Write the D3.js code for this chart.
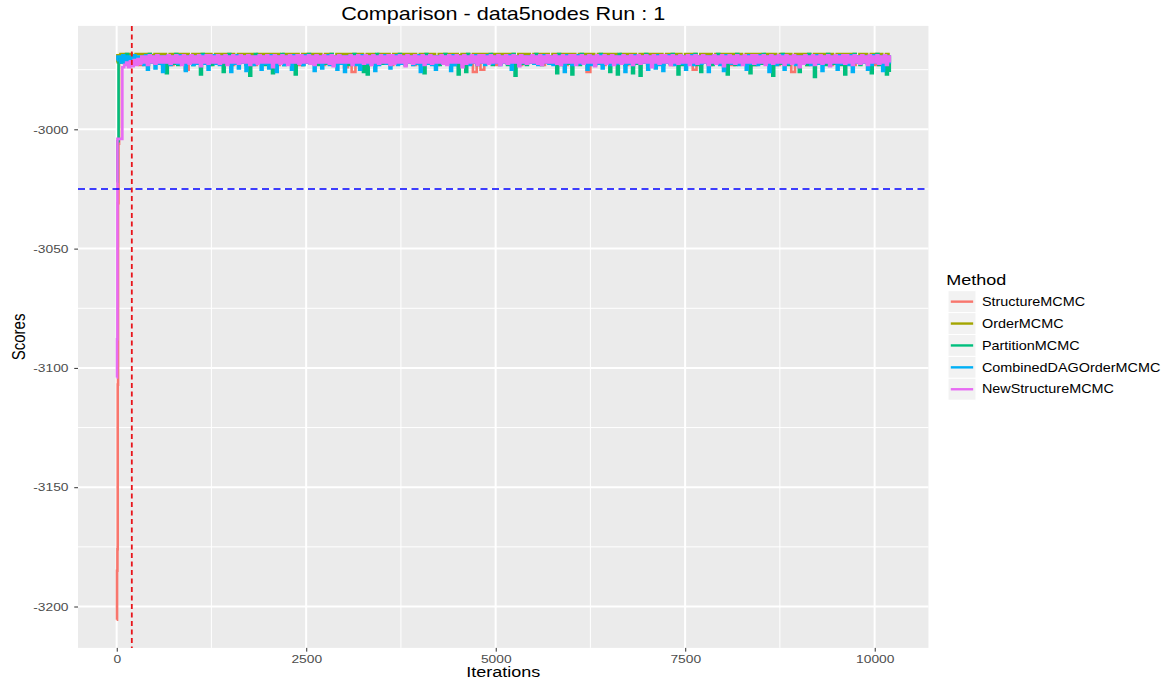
<!DOCTYPE html>
<html>
<head>
<meta charset="utf-8">
<script src="https://cdn.jsdelivr.net/npm/d3@7"></script>
<style>
  body { margin: 0; background: #fff; }
  text { font-family: "Liberation Sans", Arial, sans-serif; }
  .nss { vector-effect: non-scaling-stroke; }
</style>
</head>
<body>
<div id="chart"></div>
<script>
const methods = ["StructureMCMC", "OrderMCMC", "PartitionMCMC", "CombinedDAGOrderMCMC", "NewStructureMCMC"]
const methodColors = ["#F8766D", "#A3A500", "#00BF7D", "#00B0F6", "#E76BF3"]
const xTicks = [0, 2500, 5000, 7500, 10000]
const yTicks = [-3200, -3150, -3100, -3050, -3000]
const burnIn = 200
const refScore = -3025

// first iterations, [iteration, score]
const structureStart = [[0, -3205.5], [5, -3185], [10, -3176], [14, -3107], [18, -3031], [24, -3006], [32, -2971]]
const orderStart = [[0, -2972], [10, -2969]]
const partitionStart = [[0, -3022], [9, -3005]]
const combinedStart = [[0, -2971], [10, -2969.5]]
const newStructureStart = [[0, -3104], [5, -3088], [10, -3004], [20, -3004]]

// sampled scores after that, one every `step` iterations up to 10200
const structureStep = 50
const structureTrace = [
  -2970,-2972,-2969.5,-2972,-2970,-2973,-2969.5,-2972,-2970,-2972,
  -2969.5,-2972,-2970,-2973,-2969.5,-2972,-2970,-2975,-2969.5,-2972,
  -2970,-2972,-2969.5,-2973,-2970,-2972,-2969.5,-2972,-2970,-2973,
  -2969.5,-2972,-2970,-2972,-2969.5,-2973,-2970,-2972,-2969.5,-2972,
  -2970,-2973,-2969.5,-2972,-2970,-2972,-2969.5,-2973,-2970,-2972,
  -2969.5,-2972,-2970,-2973,-2969.5,-2972,-2970,-2972,-2969.5,-2974,
  -2970,-2976,-2969.5,-2972,-2970,-2973,-2969.5,-2972,-2970,-2972,
  -2969.5,-2973,-2970,-2972,-2969.5,-2972,-2970,-2973,-2969.5,-2972,
  -2970,-2972,-2969.5,-2973,-2970,-2972,-2969.5,-2972,-2970,-2973,
  -2969.5,-2972,-2970,-2976,-2969.5,-2975,-2970,-2972,-2969.5,-2973,
  -2970,-2972,-2969.5,-2972,-2970,-2973,-2969.5,-2972,-2970,-2972,
  -2969.5,-2973,-2970,-2972,-2969.5,-2972,-2970,-2973,-2969.5,-2972,
  -2970,-2972,-2969.5,-2976,-2970,-2972,-2969.5,-2973,-2970,-2972,
  -2969.5,-2972,-2970,-2973,-2969.5,-2972,-2970,-2972,-2969.5,-2973,
  -2970,-2972,-2969.5,-2972,-2970,-2973,-2969.5,-2972,-2970,-2972,
  -2969.5,-2975,-2970,-2972,-2969.5,-2973,-2970,-2972,-2969.5,-2972,
  -2970,-2973,-2969.5,-2972,-2970,-2972,-2969.5,-2973,-2970,-2972,
  -2969.5,-2972,-2970,-2973,-2969.5,-2972,-2970,-2976,-2969.5,-2972,
  -2970,-2973,-2969.5,-2972,-2970,-2972,-2969.5,-2973,-2970,-2972,
  -2969.5,-2972,-2970,-2973,-2969.5,-2972,-2970,-2972,-2969.5,-2973,
  -2970,-2972,-2969.5,-2972
]
const orderStep = 50
const orderTrace = [
  -2968.5,-2968.5,-2968.5,-2969.5,-2968.5,-2968.5,-2968.5,-2968.5,-2969,-2968.5,
  -2968.5,-2968.5,-2969.5,-2968.5,-2968.5,-2968.5,-2968.5,-2968.5,-2969,-2968.5,
  -2968.5,-2968.5,-2968.5,-2968.5,-2969.5,-2968.5,-2968.5,-2968.5,-2968.5,-2968.5,
  -2969,-2968.5,-2968.5,-2968.5,-2968.5,-2969.5,-2968.5,-2968.5,-2968.5,-2968.5,
  -2968.5,-2968.5,-2969,-2968.5,-2968.5,-2968.5,-2968.5,-2969.5,-2968.5,-2968.5,
  -2968.5,-2968.5,-2968.5,-2969,-2968.5,-2968.5,-2969.5,-2968.5,-2968.5,-2968.5,
  -2968.5,-2968.5,-2968.5,-2968.5,-2969.5,-2968.5,-2968.5,-2969,-2968.5,-2968.5,
  -2968.5,-2969.5,-2968.5,-2968.5,-2968.5,-2968.5,-2968.5,-2968.5,-2969,-2968.5,
  -2968.5,-2968.5,-2968.5,-2969.5,-2968.5,-2968.5,-2968.5,-2968.5,-2968.5,-2969,
  -2968.5,-2968.5,-2969.5,-2968.5,-2968.5,-2968.5,-2968.5,-2969,-2968.5,-2968.5,
  -2968.5,-2968.5,-2968.5,-2968.5,-2969.5,-2968.5,-2968.5,-2968.5,-2969,-2968.5,
  -2968.5,-2968.5,-2968.5,-2969.5,-2968.5,-2968.5,-2968.5,-2968.5,-2968.5,-2968.5,
  -2969,-2968.5,-2968.5,-2968.5,-2968.5,-2969.5,-2968.5,-2968.5,-2968.5,-2968.5,
  -2968.5,-2969,-2968.5,-2968.5,-2968.5,-2968.5,-2969.5,-2968.5,-2968.5,-2968.5,
  -2968.5,-2968.5,-2968.5,-2969,-2968.5,-2968.5,-2968.5,-2968.5,-2969.5,-2968.5,
  -2968.5,-2968.5,-2969.5,-2968.5,-2968.5,-2968.5,-2969,-2968.5,-2968.5,-2968.5,
  -2968.5,-2968.5,-2968.5,-2968.5,-2969.5,-2968.5,-2968.5,-2968.5,-2968.5,-2969,
  -2968.5,-2968.5,-2968.5,-2969.5,-2968.5,-2968.5,-2968.5,-2969,-2968.5,-2968.5,
  -2968.5,-2968.5,-2969.5,-2968.5,-2968.5,-2968.5,-2968.5,-2968.5,-2969,-2968.5,
  -2968.5,-2968.5,-2968.5,-2968.5,-2969.5,-2968.5,-2968.5,-2969,-2968.5,-2968.5,
  -2968.5,-2969.5,-2968.5,-2968.5
]
const partitionStep = 25
const partitionTrace = [
  -2970,-2972,-2969.5,-2972.5,-2968.5,-2972,-2970,-2973,-2969.5,-2972,-2970,-2972.5,-2969.5,-2972,-2970,-2973,-2968.5,-2972,-2969.5,-2972.5,-2970,-2972,-2969.5,-2973,
  -2970,-2976.5,-2969.5,-2972,-2970,-2972.5,-2968.5,-2973,-2969.5,-2972,-2970,-2972.5,-2969.5,-2972,-2970,-2973,-2969.5,-2972,-2970,-2977,-2968.5,-2972.5,-2969.5,-2972,
  -2970,-2973,-2969.5,-2972,-2970,-2972.5,-2969.5,-2976,-2970,-2972,-2968.5,-2973,-2969.5,-2972,-2970,-2972.5,-2969.5,-2972,-2970,-2973,-2969.5,-2977.5,-2970,-2972,
  -2968.5,-2972.5,-2969.5,-2972,-2970,-2973,-2969.5,-2972,-2970,-2976.5,-2969.5,-2972.5,-2970,-2972,-2968.5,-2973,-2969.5,-2972,-2970,-2972.5,-2969.5,-2977,-2970,-2972,
  -2969.5,-2973,-2970,-2972,-2968.5,-2972.5,-2969.5,-2972,-2970,-2973,-2969.5,-2972,-2970,-2972.5,-2969.5,-2972,-2968.5,-2973,-2970,-2972,-2969.5,-2972.5,-2970,-2972,
  -2969.5,-2973,-2970,-2972,-2968.5,-2972.5,-2969.5,-2972,-2970,-2976,-2969.5,-2977,-2970,-2972,-2969.5,-2973,-2968.5,-2972,-2970,-2972.5,-2969.5,-2972,-2970,-2973,
  -2969.5,-2972,-2970,-2972.5,-2968.5,-2972,-2969.5,-2973,-2970,-2972,-2969.5,-2972.5,-2970,-2972,-2969.5,-2973,-2970,-2976.5,-2968.5,-2972,-2969.5,-2972.5,-2970,-2972,
  -2969.5,-2973,-2970,-2972,-2968.5,-2972.5,-2969.5,-2972,-2970,-2973,-2969.5,-2977,-2970,-2972,-2969.5,-2976,-2968.5,-2972.5,-2970,-2972,-2969.5,-2973,-2970,-2972,
  -2969.5,-2972.5,-2970,-2972,-2968.5,-2973,-2969.5,-2972,-2970,-2972.5,-2969.5,-2972,-2970,-2973,-2969.5,-2972,-2968.5,-2977.5,-2970,-2972,-2969.5,-2972.5,-2970,-2973,
  -2969.5,-2972,-2970,-2972.5,-2968.5,-2972,-2969.5,-2973,-2970,-2972,-2969.5,-2972.5,-2970,-2972,-2969.5,-2976.5,-2968.5,-2973,-2970,-2972,-2969.5,-2972.5,-2970,-2977,
  -2969.5,-2972,-2970,-2973,-2968.5,-2972,-2969.5,-2972.5,-2970,-2972,-2969.5,-2973,-2970,-2972,-2968.5,-2972.5,-2969.5,-2972,-2970,-2976,-2969.5,-2972.5,-2970,-2977,
  -2968.5,-2972,-2969.5,-2973,-2970,-2972,-2969.5,-2976.5,-2970,-2972.5,-2969.5,-2977.5,-2970,-2972,-2968.5,-2973,-2969.5,-2972,-2970,-2972.5,-2969.5,-2972,-2970,-2973,
  -2969.5,-2972,-2970,-2972.5,-2968.5,-2972,-2969.5,-2977,-2970,-2973,-2969.5,-2972,-2970,-2972.5,-2969.5,-2972,-2968.5,-2973,-2970,-2976,-2969.5,-2972,-2970,-2972.5,
  -2969.5,-2973,-2970,-2972,-2968.5,-2972.5,-2969.5,-2972,-2970,-2977,-2969.5,-2972,-2970,-2973,-2968.5,-2972,-2969.5,-2972.5,-2970,-2972,-2969.5,-2976.5,-2970,-2973,
  -2969.5,-2972,-2970,-2972.5,-2968.5,-2972,-2969.5,-2973,-2970,-2977.5,-2969.5,-2972,-2970,-2972.5,-2968.5,-2972,-2969.5,-2973,-2970,-2972,-2969.5,-2972.5,-2970,-2976,
  -2969.5,-2972,-2970,-2973,-2968.5,-2972,-2969.5,-2978,-2970,-2972.5,-2969.5,-2972,-2970,-2973,-2968.5,-2972,-2969.5,-2972.5,-2970,-2972,-2969.5,-2973,-2970,-2977,
  -2969.5,-2972,-2970,-2972.5,-2968.5,-2972,-2969.5,-2973,-2970,-2972,-2969.5,-2972.5,-2970,-2976.5,-2969.5,-2972,-2968.5,-2973,-2970,-2972,-2969.5,-2977,-2970,-2976
]
const combinedStep = 25
const combinedTrace = [
  -2969.5,-2972,-2969,-2972.5,-2969.5,-2973,-2969.5,-2972,-2969,-2972.5,-2969.5,-2972,-2969.5,-2973,-2969,-2975,-2969.5,-2972,-2969.5,-2974.5,-2969,-2972.5,-2969.5,-2976,
  -2969.5,-2972,-2969,-2973,-2969.5,-2972,-2969.5,-2972.5,-2969,-2972,-2969.5,-2975.5,-2969.5,-2972,-2969,-2973,-2969.5,-2972.5,-2969.5,-2972,-2969,-2972.5,-2969.5,-2975,
  -2969.5,-2972,-2969,-2972.5,-2969.5,-2973,-2969.5,-2972,-2969,-2972,-2969.5,-2976,-2969.5,-2972.5,-2969,-2974.5,-2969.5,-2972,-2969.5,-2975.5,-2969,-2972,-2969.5,-2973,
  -2969.5,-2972,-2969,-2975,-2969.5,-2972.5,-2969.5,-2974.5,-2969,-2972,-2969.5,-2976,-2969.5,-2972,-2969,-2973,-2969.5,-2972.5,-2969.5,-2975,-2969,-2972,-2969.5,-2972.5,
  -2969.5,-2973,-2969,-2972,-2969.5,-2972.5,-2969.5,-2975.5,-2969,-2972,-2969.5,-2974.5,-2969.5,-2972,-2969,-2973,-2969.5,-2972,-2969.5,-2975,-2969,-2972.5,-2969.5,-2976,
  -2969.5,-2972,-2969,-2972.5,-2969.5,-2973,-2969.5,-2975,-2969,-2972,-2969.5,-2972.5,-2969.5,-2972,-2969,-2975.5,-2969.5,-2973,-2969.5,-2972,-2969,-2972.5,-2969.5,-2974.5,
  -2969.5,-2972,-2969,-2973,-2969.5,-2972.5,-2969.5,-2972,-2969,-2972,-2969.5,-2973,-2969.5,-2972.5,-2969,-2976,-2969.5,-2972,-2969.5,-2972.5,-2969,-2973,-2969.5,-2975,
  -2969.5,-2972,-2969,-2972.5,-2969.5,-2972,-2969.5,-2975.5,-2969,-2973,-2969.5,-2972,-2969.5,-2972.5,-2969,-2972,-2969.5,-2973,-2969.5,-2972,-2969,-2972.5,-2969.5,-2972,
  -2969.5,-2973,-2969,-2972,-2969.5,-2972.5,-2969.5,-2972,-2969,-2973,-2969.5,-2972,-2969.5,-2972.5,-2969,-2975,-2969.5,-2972,-2969.5,-2973,-2969,-2972,-2969.5,-2972.5,
  -2969.5,-2972,-2969,-2972.5,-2969.5,-2973,-2969.5,-2972,-2969,-2972,-2969.5,-2972.5,-2969.5,-2973,-2969,-2972,-2969.5,-2972.5,-2969.5,-2976,-2969,-2972,-2969.5,-2973,
  -2969.5,-2972,-2969,-2972.5,-2969.5,-2972,-2969.5,-2975,-2969,-2973,-2969.5,-2972,-2969.5,-2972.5,-2969,-2974.5,-2969.5,-2972,-2969.5,-2973,-2969,-2972,-2969.5,-2972.5,
  -2969.5,-2972,-2969,-2976,-2969.5,-2972.5,-2969.5,-2973,-2969,-2972,-2969.5,-2972.5,-2969.5,-2972,-2969,-2975,-2969.5,-2972,-2969.5,-2974.5,-2969,-2973,-2969.5,-2975.5,
  -2969.5,-2972,-2969,-2972.5,-2969.5,-2973,-2969.5,-2972,-2969,-2972.5,-2969.5,-2975,-2969.5,-2972,-2969,-2973,-2969.5,-2972,-2969.5,-2972.5,-2969,-2972,-2969.5,-2976,
  -2969.5,-2972,-2969,-2972.5,-2969.5,-2973,-2969.5,-2975.5,-2969,-2972,-2969.5,-2972.5,-2969.5,-2972,-2969,-2973,-2969.5,-2972,-2969.5,-2975,-2969,-2972.5,-2969.5,-2972,
  -2969.5,-2973,-2969,-2972,-2969.5,-2972.5,-2969.5,-2976,-2969,-2972,-2969.5,-2973,-2969.5,-2972,-2969,-2975,-2969.5,-2972.5,-2969.5,-2972,-2969,-2973,-2969.5,-2972,
  -2969.5,-2972.5,-2969,-2972,-2969.5,-2973,-2969.5,-2972,-2969,-2972.5,-2969.5,-2975.5,-2969.5,-2972,-2969,-2973,-2969.5,-2972,-2969.5,-2975,-2969,-2972.5,-2969.5,-2972,
  -2969.5,-2973,-2969,-2976,-2969.5,-2972,-2969.5,-2972.5,-2969,-2972,-2969.5,-2975,-2969.5,-2973,-2969,-2972,-2969.5,-2972.5,-2969.5,-2975.5,-2969,-2972,-2969.5,-2972.5
]
const newStructureStep = 25
const newStructureTrace = [
  -3004,-3004,-2974,-2973,-2972,-2974,-2971.5,-2973.5,-2971,-2973,-2970.5,-2972.5,-2969.5,-2972,-2969.5,-2973,-2969,-2972,-2969.5,-2972.5,-2969,-2972,-2969.5,-2972,
  -2969.5,-2972,-2969,-2972.5,-2969.5,-2972,-2969,-2972,-2969.5,-2973,-2969,-2972,-2969.5,-2972.5,-2969,-2972,-2969.5,-2972,-2969,-2973.5,-2969.5,-2972,-2969,-2972.5,
  -2969,-2972,-2969.5,-2972,-2969,-2972.5,-2969.5,-2972,-2969,-2973,-2969.5,-2972,-2969,-2972,-2969.5,-2972.5,-2969,-2972,-2969.5,-2972,-2969,-2973,-2969.5,-2972,
  -2969.5,-2972.5,-2969,-2972,-2969.5,-2972,-2969,-2972,-2969.5,-2974,-2969,-2972,-2969.5,-2972.5,-2969,-2972,-2969.5,-2973,-2969,-2972,-2969.5,-2972,-2969,-2972.5,
  -2969,-2972,-2969.5,-2972,-2969,-2972.5,-2969.5,-2973,-2969,-2972,-2969.5,-2972,-2969,-2972,-2969.5,-2972.5,-2969,-2973.5,-2969.5,-2972,-2969,-2972,-2969.5,-2972,
  -2969.5,-2972,-2969,-2973,-2969.5,-2972,-2969,-2972,-2969.5,-2972.5,-2969,-2972,-2969.5,-2973,-2969,-2972,-2969.5,-2972.5,-2969,-2972,-2969.5,-2972,-2969,-2973,
  -2969,-2972.5,-2969.5,-2972,-2969,-2972,-2969.5,-2973.5,-2969,-2972,-2969.5,-2972.5,-2969,-2972,-2969.5,-2972,-2969,-2973,-2969.5,-2972,-2969,-2972.5,-2969.5,-2972,
  -2969.5,-2972,-2969,-2972.5,-2969.5,-2973,-2969,-2972,-2969.5,-2972,-2969,-2972,-2969.5,-2974,-2969,-2972.5,-2969.5,-2972,-2969,-2972,-2969.5,-2973,-2969,-2972,
  -2969,-2972,-2969.5,-2972.5,-2969,-2972,-2969.5,-2972,-2969,-2973,-2969.5,-2972,-2969,-2972.5,-2969.5,-2972,-2969,-2972,-2969.5,-2973.5,-2969,-2972,-2969.5,-2972.5,
  -2969.5,-2972,-2969,-2972,-2969.5,-2972.5,-2969,-2973,-2969.5,-2972,-2969,-2972,-2969.5,-2972,-2969,-2972.5,-2969.5,-2973,-2969,-2972,-2969.5,-2972,-2969,-2972,
  -2969,-2973,-2969.5,-2972,-2969,-2972.5,-2969.5,-2972,-2969,-2972,-2969.5,-2973.5,-2969,-2972,-2969.5,-2972,-2969,-2972.5,-2969.5,-2972,-2969,-2973,-2969.5,-2972,
  -2969.5,-2972.5,-2969,-2972,-2969.5,-2972,-2969,-2973,-2969.5,-2972,-2969,-2972.5,-2969.5,-2972,-2969,-2972,-2969.5,-2974,-2969,-2972,-2969.5,-2972.5,-2969,-2972,
  -2969,-2972,-2969.5,-2973,-2969,-2972,-2969.5,-2972.5,-2969,-2972,-2969.5,-2972,-2969,-2973,-2969.5,-2972,-2969,-2972.5,-2969.5,-2972,-2969,-2972,-2969.5,-2973,
  -2969.5,-2972,-2969,-2972.5,-2969.5,-2972,-2969,-2973.5,-2969.5,-2972,-2969,-2972,-2969.5,-2972.5,-2969,-2972,-2969.5,-2973,-2969,-2972,-2969.5,-2972,-2969,-2972.5,
  -2969,-2972,-2969.5,-2972,-2969,-2973,-2969.5,-2972,-2969,-2972.5,-2969.5,-2972,-2969,-2972,-2969.5,-2973,-2969,-2972,-2969.5,-2972.5,-2969,-2972,-2969.5,-2974,
  -2969.5,-2972.5,-2969,-2972,-2969.5,-2972,-2969,-2973,-2969.5,-2972,-2969,-2972.5,-2969.5,-2972,-2969,-2973.5,-2969.5,-2972,-2969,-2972,-2969.5,-2972,-2969,-2972.5,
  -2969,-2972,-2969.5,-2973,-2969,-2972,-2969.5,-2972.5,-2969,-2972,-2969.5,-2973,-2969,-2972,-2969.5,-2972,-2969,-2972.5,-2969.5,-2972,-2969,-2973,-2969.5,-2972
]

const seriesStarts = [structureStart, orderStart, partitionStart, combinedStart, newStructureStart]
const seriesSteps = [structureStep, orderStep, partitionStep, combinedStep, newStructureStep]
const seriesTraces = [structureTrace, orderTrace, partitionTrace, combinedTrace, newStructureTrace]

// the reference picture is stretched horizontally, so draw in a narrower box and stretch it
const W = 1171, H = 680, sx = 1.2
const iw = W / sx
const panel = { left: 65, right: 773.7, top: 25.9, bottom: 647.9 }

const series = methods.map((m, i) => ({
  method: m,
  color: methodColors[i],
  values: seriesStarts[i].map(d => ({ it: d[0], score: d[1] }))
    .concat(seriesTraces[i].map((s, k) => ({ it: seriesSteps[i] * (k + 1), score: s })))
}))

const allVals = series.flatMap(s => s.values)
const xExt = d3.extent(allVals, d => d.it)
const yExt = d3.extent(allVals, d => d.score)
const xPad = (xExt[1] - xExt[0]) * 0.05
const yPad = (yExt[1] - yExt[0]) * 0.05

const x = d3.scaleLinear().domain([xExt[0] - xPad, xExt[1] + xPad]).range([panel.left, panel.right])
const y = d3.scaleLinear().domain([yExt[0] - yPad, yExt[1] + yPad]).range([panel.bottom, panel.top])

const svg = d3.select("#chart").append("svg")
  .attr("width", W)
  .attr("height", H)
  .attr("viewBox", `0 0 ${iw} ${H}`)
  .attr("preserveAspectRatio", "none")

svg.append("rect").attr("width", iw).attr("height", H).attr("fill", "#fff")

// panel
svg.append("rect")
  .attr("x", panel.left).attr("y", panel.top)
  .attr("width", panel.right - panel.left).attr("height", panel.bottom - panel.top)
  .attr("fill", "#EBEBEB")

// minor breaks halfway between the major ones
const xMinor = d3.pairs(xTicks, (a, b) => (a + b) / 2)
const yMinor = d3.pairs([-3250].concat(yTicks, [-2950]), (a, b) => (a + b) / 2)
  .filter(v => v > y.domain()[0] && v < y.domain()[1])

const grid = svg.append("g")
grid.selectAll(".xminor").data(xMinor).enter().append("line")
  .attr("class", "nss")
  .attr("x1", d => x(d)).attr("x2", d => x(d))
  .attr("y1", panel.top).attr("y2", panel.bottom)
  .attr("stroke", "#fff").attr("stroke-width", 1)
grid.selectAll(".yminor").data(yMinor).enter().append("line")
  .attr("class", "nss")
  .attr("x1", panel.left).attr("x2", panel.right)
  .attr("y1", d => y(d)).attr("y2", d => y(d))
  .attr("stroke", "#fff").attr("stroke-width", 1)
grid.selectAll(".xmajor").data(xTicks).enter().append("line")
  .attr("class", "nss")
  .attr("x1", d => x(d)).attr("x2", d => x(d))
  .attr("y1", panel.top).attr("y2", panel.bottom)
  .attr("stroke", "#fff").attr("stroke-width", 2)
grid.selectAll(".ymajor").data(yTicks).enter().append("line")
  .attr("class", "nss")
  .attr("x1", panel.left).attr("x2", panel.right)
  .attr("y1", d => y(d)).attr("y2", d => y(d))
  .attr("stroke", "#fff").attr("stroke-width", 2)

// traces
const line = d3.line()
  .x(d => x(d.it))
  .y(d => y(d.score))
  .curve(d3.curveStepAfter)

svg.append("g").selectAll("path")
  .data(series)
  .enter()
  .append("path")
    .attr("class", "nss")
    .attr("d", d => line(d.values))
    .attr("fill", "none")
    .attr("stroke", d => d.color)
    .attr("stroke-width", 2.6)

// reference lines
svg.append("line")
  .attr("class", "nss")
  .attr("x1", panel.left).attr("x2", panel.right)
  .attr("y1", y(refScore)).attr("y2", y(refScore))
  .attr("stroke", "#0000FF").attr("stroke-width", 1.3)
  .attr("stroke-dasharray", "7,4.5")
svg.append("line")
  .attr("class", "nss")
  .attr("x1", x(burnIn)).attr("x2", x(burnIn))
  .attr("y1", panel.top).attr("y2", panel.bottom)
  .attr("stroke", "#E8141A").attr("stroke-width", 1.8)
  .attr("stroke-dasharray", "5,3.5")

// axes
const xAxis = svg.append("g")
  .attr("transform", `translate(0,${panel.bottom})`)
  .call(d3.axisBottom(x).tickValues(xTicks).tickFormat(d3.format("d")).tickSize(3.75).tickPadding(3))
const yAxis = svg.append("g")
  .attr("transform", `translate(${panel.left},0)`)
  .call(d3.axisLeft(y).tickValues(yTicks).tickFormat(d => "-" + Math.abs(d)).tickSize(3.75 / sx).tickPadding(4.8))

for (const ax of [xAxis, yAxis]) {
  ax.select(".domain").remove()
  ax.selectAll(".tick line").attr("class", "nss").attr("stroke", "#333333").attr("stroke-width", 1)
  ax.selectAll(".tick text").attr("fill", "#4D4D4D").style("font-size", "11.5px")
  ax.attr("font-family", null)
}

// titles
const midX = (panel.left + panel.right) / 2
svg.append("text")
  .attr("x", midX).attr("y", 20)
  .attr("text-anchor", "middle")
  .style("font-size", "18px")
  .text("Comparison - data5nodes Run : 1")
svg.append("text")
  .attr("x", midX).attr("y", 677)
  .attr("text-anchor", "middle")
  .style("font-size", "15px")
  .text("Iterations")
svg.append("text")
  .attr("transform", `translate(20.8,${(panel.top + panel.bottom) / 2}) rotate(-90)`)
  .attr("text-anchor", "middle")
  .style("font-size", "15px")
  .text("Scores")

// legend
const legend = svg.append("g").attr("transform", "translate(790,0)")
legend.append("text")
  .attr("x", -1.5).attr("y", 285.5)
  .style("font-size", "15px")
  .text("Method")

const keyW = 23.3, keyH = 21.9, keyTop = 290.7
const keys = legend.selectAll(".key")
  .data(series)
  .enter()
  .append("g")
    .attr("transform", (d, i) => `translate(0,${keyTop + i * keyH})`)
keys.append("rect")
  .attr("class", "nss")
  .attr("width", keyW).attr("height", keyH)
  .attr("fill", "#F2F2F2").attr("stroke", "#fff").attr("stroke-width", 1)
keys.append("line")
  .attr("class", "nss")
  .attr("x1", keyW * 0.1).attr("x2", keyW * 0.9)
  .attr("y1", keyH / 2).attr("y2", keyH / 2)
  .attr("stroke", d => d.color).attr("stroke-width", 2.4)
keys.append("text")
  .attr("x", keyW + 5).attr("y", keyH / 2)
  .attr("dy", "0.35em")
  .style("font-size", "12px")
  .text(d => d.method)
</script>
</body>
</html>
